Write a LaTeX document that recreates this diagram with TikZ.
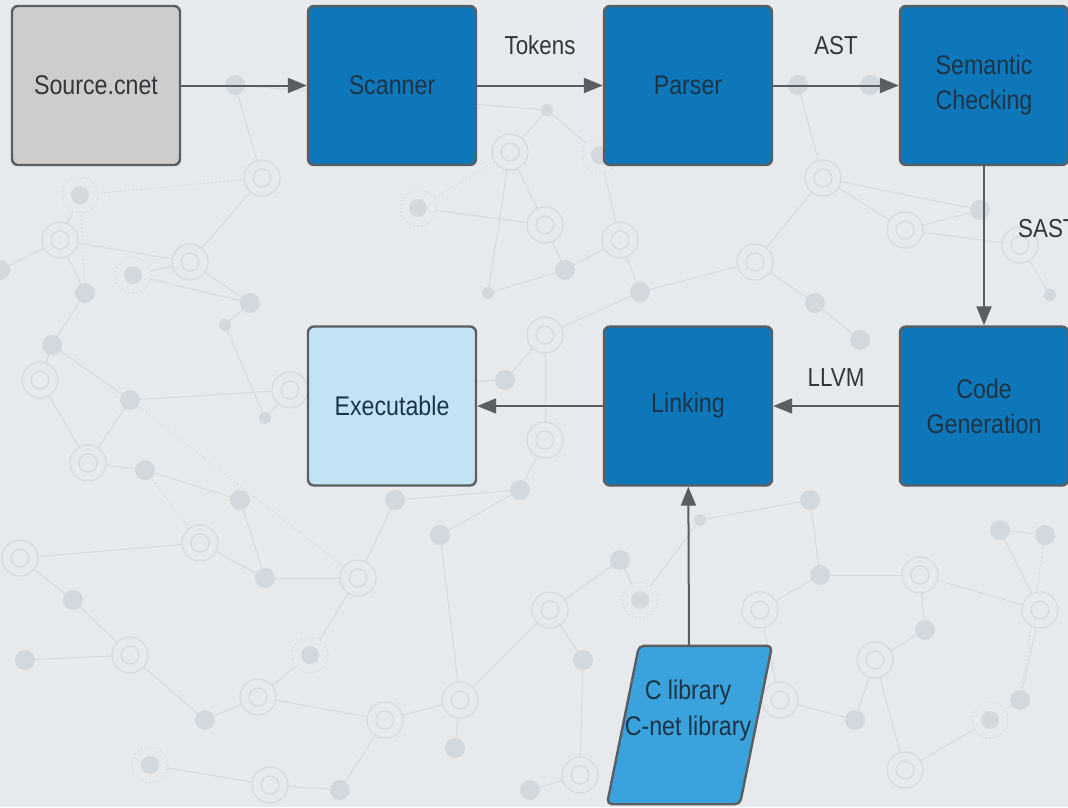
\documentclass[tikz,border=0pt]{standalone}
\usepackage{fontspec}
\setmainfont{Liberation Sans}[FakeStretch=0.86]
\usetikzlibrary{arrows.meta,calc}

\definecolor{bgcol}{HTML}{E6EAED}
\definecolor{netline}{HTML}{D5DADE}
\definecolor{netdot}{HTML}{D2D9DE}
\definecolor{edgecol}{HTML}{5B5E61}
\definecolor{greybox}{HTML}{CDCDCD}
\definecolor{darkblue}{HTML}{0D77BA}
\definecolor{paleblue}{HTML}{C2E3F6}
\definecolor{midblue}{HTML}{3AA2DC}
\definecolor{navytext}{HTML}{1C3446}
\definecolor{labeltext}{HTML}{333638}

% points of the background network: x/y/kind (0 ring, 1 dot, 2 dashed ring, 3 small dot)
\def\netpts{235/85/1, 262/178/0, 80/195/2, 60/240/0, 190/262/0, 133/275/2, 85/293/1,
  52/345/1, 250/303/1, 225/325/3, 510/152/0, 547/110/3, 600/155/2, 545/225/0,
  565/270/1, 620/240/0, 640/292/1, 488/293/3, 418/208/2, 823/178/0, 870/85/1,
  798/85/1, 755/262/0, 815/303/1, 905/230/0, 980/210/1, 1050/295/3, 1020/245/0,
  88/463/0, 130/400/1, 145/470/1, 265/418/3, 290/390/0, 505/380/1, 545/335/0,
  545/440/0, 520/490/1, 240/500/1, 20/558/0, 200/543/0, 265/578/1, 358/578/0,
  73/600/1, 130/655/0, 25/660/1, 258/697/0, 310/655/2, 385/720/0, 205/720/1,
  460/700/0, 455/748/1, 583/660/1, 550/610/0, 620/560/1, 640/600/2, 920/575/0,
  820/575/1, 925/630/1, 1040/610/0, 1000/530/1, 875/660/0, 905/770/0, 855/720/1,
  990/720/2, 1020/700/1, 150/765/2, 270/785/0, 340/790/1, 580/775/0, 530/790/1,
  810/500/1, 780/700/0, 1045/535/1, 395/500/1, 440/535/1, 40/380/0, 0/270/1,
  860/340/1, 700/520/3, 760/610/0}

\tikzset{
  netedge/.style={draw=netline, line width=1pt},
  netdotted/.style={draw=netline, line width=1pt, dash pattern=on 1.5pt off 2.5pt},
  stage/.style={draw=edgecol, line width=2.4pt, rounded corners=6pt,
    minimum width=168pt, minimum height=159pt, inner sep=0pt, align=center,
    font=\fontsize{27}{35}\selectfont},
  bluestage/.style={stage, fill=darkblue, text=navytext},
  flow/.style={draw=edgecol, line width=2pt, -{Triangle[length=19pt,width=15pt]}},
  flowlabel/.style={text=labeltext, font=\fontsize{26}{30}\selectfont, inner sep=0pt}
}

\begin{document}
\begin{tikzpicture}[x=1pt,y=-1pt]
  \clip (0,0) rectangle (1068,807);
  \fill[bgcol] (0,0) rectangle (1068,807);

  % background network
  \foreach \x/\y/\t [count=\i] in \netpts { \coordinate (p\i) at (\x,\y); }
  \foreach \a/\b in {1/12, 1/2, 2/5, 3/4, 4/5, 4/7, 5/9, 6/9, 6/5, 7/8, 8/30,
      9/10, 10/32, 11/12, 11/14, 12/13, 13/16, 14/15, 15/18, 16/17, 17/23, 14/19,
      20/22, 20/23, 21/22, 20/25, 23/24, 24/78, 25/26, 25/28, 28/27, 26/20,
      29/30, 29/31, 30/33, 31/38, 32/33, 33/34, 34/35, 35/36, 36/37, 37/74,
      38/41, 39/40, 39/43, 40/41, 41/42, 42/74, 42/47, 43/44, 44/45, 44/49,
      46/47, 46/49, 46/48, 48/50, 50/51, 50/53, 52/53, 53/54, 54/55, 55/79,
      37/75, 75/50, 56/57, 56/58, 56/59, 59/60, 60/73, 57/71, 58/61, 61/63,
      61/62, 62/64, 64/65, 59/65, 63/72, 72/80, 80/57, 66/67, 67/68, 68/48,
      69/70, 69/52, 71/79, 15/16, 17/35, 76/8, 76/29, 77/4, 11/18}
    { \draw[netedge] (p\a) -- (p\b); }
  \foreach \a/\b in {3/2, 19/11, 30/42, 31/40, 3/7, 65/73}
    { \draw[netdotted] (p\a) -- (p\b); }
  \foreach \x/\y/\t in \netpts {
    \ifcase\t
      \fill[bgcol] (\x,\y) circle (18pt);
      \draw[netline, line width=1.2pt] (\x,\y) circle (18pt) (\x,\y) circle (9pt);
    \or
      \fill[netdot] (\x,\y) circle (10pt);
    \or
      \fill[bgcol] (\x,\y) circle (18pt);
      \draw[netdotted] (\x,\y) circle (18pt);
      \fill[netdot] (\x,\y) circle (9pt);
    \or
      \fill[netdot] (\x,\y) circle (6pt);
    \fi
  }

  % compiler stages
  \node[stage, fill=greybox, text=labeltext] (src) at (96,85.5) {Source.cnet};
  \node[bluestage] (scan) at (392,85.5) {Scanner};
  \node[bluestage] (parse) at (688,85.5) {Parser};
  \node[bluestage] (sem) at (984,85.5) {Semantic\\Checking};
  \node[bluestage] (gen) at (984,406) {Code\\Generation};
  \node[bluestage] (link) at (688,406) {Linking};
  \node[stage, fill=paleblue, text=navytext] (exe) at (392,406) {Executable};

  % library input (parallelogram)
  \node[minimum width=100pt, minimum height=158pt, inner sep=0pt] (clib) at (689,725) {};
  \draw[draw=edgecol, fill=midblue, line width=2.4pt, rounded corners=5pt]
    ($(clib.north)+(-50,0)$) -- ($(clib.north)+(83,0)$)
    -- ($(clib.south)+(51,0)$) -- ($(clib.south)+(-82,0)$) -- cycle;
  \node[text=navytext, align=center, font=\fontsize{27}{36}\selectfont, inner sep=0pt]
    (clibtext) at (688,711) {C library\\C-net library};

  % data flow
  \draw[flow] (src) -- (scan);
  \draw[flow] (scan) -- node[flowlabel, above=30pt] (tok) {Tokens} (parse);
  \draw[flow] (parse) -- node[flowlabel, above=30pt] (ast) {AST} (sem);
  \draw[flow] (sem) -- (gen);
  \node[flowlabel, anchor=west] (sast) at (1018,229) {SAST};
  \draw[flow] (gen) -- node[flowlabel, above=19pt] (llvm) {LLVM} (link);
  \draw[flow] (link) -- (exe);
  \draw[flow] (clib.north) -- (link);
\end{tikzpicture}
\end{document}
